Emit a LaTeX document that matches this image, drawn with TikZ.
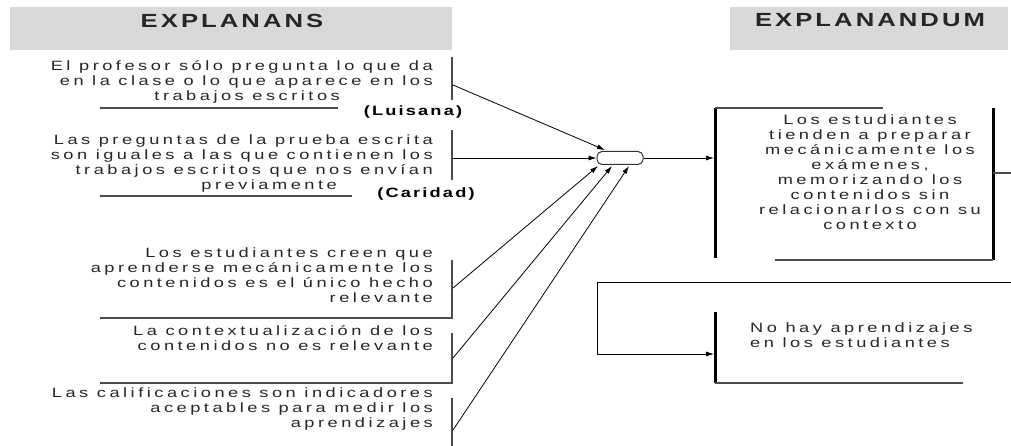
\documentclass[tikz,border=0pt]{standalone}
\usepackage{fontspec}
\setmainfont{Liberation Sans}
\newfontfamily\bodyfont{Liberation Sans}[FakeStretch=1.35,LetterSpace=26]
\newfontfamily\headfont{Liberation Sans Bold}[FakeStretch=1.35,LetterSpace=16]
\usetikzlibrary{arrows.meta,calc}
\colorlet{headgray}{black!15}
\colorlet{txtgray}{black!85}
\tikzset{
  lbl/.style={font=\bodyfont\fontsize{13.5}{15}\selectfont, text=txtgray, inner sep=0pt},
  rlbl/.style={lbl, align=right, anchor=north east},
  head/.style={font=\headfont\fontsize{19}{22}\selectfont, text=black!85, inner sep=0pt},
  who/.style={font=\headfont\fontsize{13.5}{15}\selectfont, inner sep=0pt},
  brk/.style={draw=black!70, line width=1.3pt},
  bar/.style={line width=3pt},
  arr/.style={-{Latex[length=8pt,width=5pt]}, line width=0.8pt},
}
\begin{document}
\begin{tikzpicture}[x=1pt,y=-1pt]
  \useasboundingbox (0,0) rectangle (1011,446);
  % headers
  \fill[headgray] (10,7) rectangle (452,50);
  \fill[headgray] (730,7) rectangle (1008,50);
  \node[head] (hans) at (232,21) {EXPLANANS};
  \node[head] (hand) at (870,20) {EXPLANANDUM};

  % explanans
  \node[rlbl] (e1) at (433,60) {El profesor sólo pregunta lo que da\\en la clase o lo que aparece en los\\trabajos escritos\hspace*{93pt}};
  \node[rlbl] (e2) at (433,135) {Las preguntas de la prueba escrita\\son iguales a las que contienen los\\trabajos escritos que nos envían\\previamente\hspace*{96pt}};
  \node[rlbl] (e3) at (433,248) {Los estudiantes creen que\\aprenderse mecánicamente los\\contenidos es el único hecho\\relevante};
  \node[rlbl] (e4) at (433,325) {La contextualización de los\\contenidos no es relevante};
  \node[rlbl] (e5) at (433,388) {Las calificaciones son indicadores\\aceptables para medir los\\aprendizajes};
  \node[who] (luis) at (413,112) {(Luisana)};
  \node[who] (cari) at (426,194) {(Caridad)};

  \draw[brk] (452,57) -- (452,100);
  \draw[brk] (100,108) -- (338,108);
  \draw[brk] (452,130) -- (452,180);
  \draw[brk] (100,196) -- (352,196);
  \draw[brk] (452,260) -- (452,318) -- (100,318);
  \draw[brk] (452,333) -- (452,383) -- (100,383);
  \draw[brk] (452,398) -- (452,446);

  \coordinate (s1) at (453,85);
  \coordinate (s2) at (453,158);
  \coordinate (s3) at (453,288);
  \coordinate (s4) at (453,358);
  \coordinate (s5) at (453,430);

  % junction
  \node[draw=black!80, line width=1pt, rounded corners=5pt, minimum width=46pt,
    minimum height=13pt, inner sep=0pt] (oct) at (620,158) {};
  \draw[arr] (s1) -- ($(oct.center)+(-15,-8)$);
  \draw[arr] (s2) -- (oct.west);
  \draw[arr] (s3) -- ($(oct.center)+(-22,8)$);
  \draw[arr] (s4) -- ($(oct.center)+(-8,8)$);
  \draw[arr] (s5) -- ($(oct.center)+(9,8)$);

  % explanandum
  \node[lbl, align=center, anchor=north] (x1) at (870,115) {Los estudiantes\\tienden a preparar\\mecánicamente los\\exámenes,\\memorizando los\\contenidos sin\\relacionarlos con su\\contexto};
  \coordinate (t1) at (714,158);
  \draw[arr] (oct.east) -- (t1);
  \draw[bar] (715,108) -- (715,258);
  \draw[brk] (715,108) -- (883,108);
  \draw[bar] (993,108) -- (993,260);
  \draw[brk] (775,260) -- (993,260);
  \draw[brk] (993,173) -- (1011,173);

  \node[lbl, align=left, anchor=north west] (x2) at (750,323) {No hay aprendizajes\\en los estudiantes};
  \coordinate (f0) at (1011,282);
  \coordinate (k) at (597,354);
  \coordinate (t2) at (714,354);
  \draw[arr] (f0) -| (k) -- (t2);
  \draw[bar] (715,312) -- (715,383);
  \draw[brk] (715,383) -- (963,383);
\end{tikzpicture}
\end{document}
